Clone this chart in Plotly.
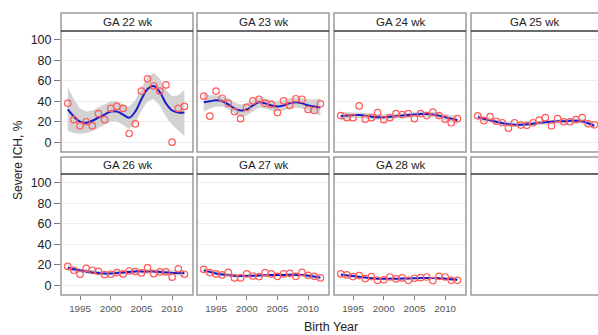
import plotly.graph_objects as go

W, H = 598, 335

years = list(range(1993, 2013))

panel_titles = ["GA 22 wk", "GA 23 wk", "GA 24 wk", "GA 25 wk",
                "GA 26 wk", "GA 27 wk", "GA 28 wk", ""]

# observed rate of severe ICH (%) per birth year
obs_22 = [38, 22, 16, 20, 16, 28, 22, 33, 35, 33, 8.5, 18, 50, 62, 55, 50, 56, 0, 33, 35]
obs_23 = [45, 25.5, 50, 43, 38, 30, 23, 34, 40.5, 42, 38, 37, 29, 40.5, 36, 42.5, 42, 32, 31, 37.5]
obs_24 = [26, 24, 24, 35.5, 22.5, 24, 29, 22, 24, 28, 27, 28, 23, 28, 26, 29.5, 26, 22.5, 19, 23]
obs_25 = [25.8, 21, 25, 20.5, 19, 13.7, 19, 16.7, 16.5, 19, 21.5, 24, 16, 23, 20, 20, 22, 24, 18, 17]
obs_26 = [18.4, 14.6, 10.7, 16.5, 14.6, 13.6, 10.4, 10.7, 12.3, 11, 13.9, 13.3, 12, 17, 11.3, 13, 13, 7.8, 16, 10.7]
obs_27 = [15.5, 12.3, 11, 10, 12.6, 7.1, 7.1, 11, 9, 8.4, 12.3, 11, 8.7, 11, 11.6, 8.7, 12.6, 9.7, 8.7, 7.1]
obs_28 = [11, 10, 8.4, 9.4, 6.5, 8.4, 4.8, 5.2, 8, 6.1, 7.1, 4.8, 6.8, 7.4, 8, 4.5, 8.7, 8, 4.8, 4.8]

# smoothed trend
fit_22 = [32, 25, 20, 19, 21, 24, 27, 30, 30, 27, 24, 30, 42, 52, 55, 49, 38, 31, 29, 29]
fit_23 = [39, 40, 41, 40, 37, 33, 31, 32, 36, 39, 38, 36, 35, 36, 38, 39, 38, 36, 35, 34]
fit_24 = [25.5, 26, 26.5, 26.5, 26, 25, 24.5, 24.5, 25, 25.5, 26, 26.5, 27, 27.5, 27.5, 27, 26, 24.5, 23, 21.5]
fit_25 = [24.5, 23, 21.5, 20, 18.5, 17.5, 17, 17, 17.5, 18, 19, 19.5, 20, 20.5, 20.5, 21, 21, 20.5, 18.5, 16]
fit_26 = [17, 15.5, 14.5, 13.5, 12.5, 12, 11.5, 11.5, 12, 12.5, 13, 13.5, 13.5, 13.5, 13.5, 13, 12.5, 12, 12, 12]
fit_27 = [14.5, 13, 11.5, 10.5, 9.8, 9.3, 9, 9, 9.2, 9.5, 9.7, 9.9, 10, 10, 10.1, 10.1, 10, 9.3, 8.4, 7.4]
fit_28 = [10.3, 9.6, 8.9, 8.2, 7.5, 6.9, 6.4, 6.2, 6.2, 6.3, 6.5, 6.6, 6.8, 7, 7.1, 7.1, 6.9, 6.4, 5.8, 5.2]

# confidence band, upper and lower limits
upper_22 = [54, 42, 33, 30, 31, 34, 37, 40, 40, 37, 35, 41, 53, 64, 68, 62, 51, 45, 46, 51]
lower_22 = [11, 9, 8, 9, 11, 14, 17, 20, 20, 17, 13, 19, 31, 40, 42, 36, 25, 17, 12, 6]
upper_23 = [48, 46, 46, 45, 43, 39, 37, 38, 41, 44, 43, 41, 40, 41, 43, 44, 43, 42, 42, 43]
lower_23 = [30, 33, 35, 35, 32, 28, 25, 26, 30, 34, 33, 31, 30, 31, 33, 34, 33, 31, 28, 26]
upper_24 = [29.5, 29, 29, 29, 28.5, 27.5, 27, 27, 27.5, 28, 28.5, 29, 29.5, 30, 30, 29.5, 28.5, 27.5, 26.5, 25.5]
lower_24 = [21.5, 23, 24, 24, 23.5, 22.5, 22, 22, 22.5, 23, 23.5, 24, 24.5, 25, 25, 24.5, 23.5, 21.5, 19.5, 17.5]
upper_25 = [27.5, 25.5, 23.8, 22.2, 20.7, 19.7, 19.2, 19.2, 19.7, 20.2, 21.2, 21.7, 22.2, 22.7, 22.7, 23.2, 23.3, 23, 21.3, 19.2]
lower_25 = [21.5, 20.5, 19.2, 17.8, 16.3, 15.3, 14.8, 14.8, 15.3, 15.8, 16.8, 17.3, 17.8, 18.3, 18.3, 18.8, 18.7, 18, 15.7, 12.8]
upper_26 = [19.8, 17.8, 16.6, 15.6, 14.6, 14.1, 13.6, 13.6, 14.1, 14.6, 15.1, 15.6, 15.6, 15.6, 15.6, 15.1, 14.7, 14.3, 14.6, 15]
lower_26 = [14.2, 13.2, 12.4, 11.4, 10.4, 9.9, 9.4, 9.4, 9.9, 10.4, 10.9, 11.4, 11.4, 11.4, 11.4, 10.9, 10.3, 9.7, 9.4, 9]
upper_27 = [16.8, 14.9, 13.2, 12.1, 11.4, 10.9, 10.6, 10.6, 10.8, 11.1, 11.3, 11.5, 11.6, 11.6, 11.7, 11.7, 11.7, 11.1, 10.4, 9.8]
lower_27 = [12.2, 11.1, 9.8, 8.9, 8.2, 7.7, 7.4, 7.4, 7.6, 7.9, 8.1, 8.3, 8.4, 8.4, 8.5, 8.5, 8.3, 7.5, 6.4, 5]
upper_28 = [12, 11, 10.1, 9.3, 8.6, 8, 7.5, 7.3, 7.3, 7.4, 7.6, 7.7, 7.9, 8.1, 8.2, 8.2, 8.1, 7.7, 7.2, 6.9]
lower_28 = [8.6, 8.2, 7.7, 7.1, 6.4, 5.8, 5.3, 5.1, 5.1, 5.2, 5.4, 5.5, 5.7, 5.9, 6, 6, 5.7, 5.1, 4.4, 3.5]

y_ticks = [0, 20, 40, 60, 80, 100]
x_ticks = [1995, 2000, 2005, 2010]

series = [
    (obs_22, fit_22, lower_22, upper_22),
    (obs_23, fit_23, lower_23, upper_23),
    (obs_24, fit_24, lower_24, upper_24),
    (obs_25, fit_25, lower_25, upper_25),
    (obs_26, fit_26, lower_26, upper_26),
    (obs_27, fit_27, lower_27, upper_27),
    (obs_28, fit_28, lower_28, upper_28),
    None,
]

# panel geometry in pixels (left, right) per column and (top of strip, strip bottom, plot bottom) per row
col_px = [(61, 193), (197, 329), (334, 466), (471, 598)]
row_px = [(13, 31, 152), (157, 174, 295)]
x_lo = 1991.9
px_per_year = 6.14
y_range = [-9.6, 108.8]

BAND = "#d2d2d2"
LINE = "#1c1cc8"
DOT = "#ff5c5c"
FRAME = "#9a9a9a"
FONT = "Liberation Sans, Arial"

def fx(px):
    return px / W

def fy(px):
    return 1 - px / H

fig = go.Figure()
layout = {}
shapes = []
annotations = []

for i in range(8):
    r, c = divmod(i, 4)
    n = i + 1
    xa = "x" if n == 1 else f"x{n}"
    ya = "y" if n == 1 else f"y{n}"
    xl = "xaxis" if n == 1 else f"xaxis{n}"
    yl = "yaxis" if n == 1 else f"yaxis{n}"
    left, right = col_px[c]
    s_top, s_bot, p_bot = row_px[r]
    x_hi = x_lo + (right - left) / px_per_year

    show_x = (r == 1)
    layout[xl] = dict(
        domain=[fx(left), fx(right)], anchor=ya, range=[x_lo, x_hi],
        tickvals=x_ticks, showticklabels=show_x,
        ticks="outside" if show_x else "", ticklen=4, tickcolor="#777", tickwidth=1,
        tickfont=dict(family=FONT, size=9.8, color="#555"),
        showgrid=False, zeroline=False, showline=False, fixedrange=True,
    )
    show_y = (c == 0)
    layout[yl] = dict(
        domain=[fy(p_bot), fy(s_bot)], anchor=xa, range=y_range,
        tickvals=y_ticks, showticklabels=show_y,
        ticks="outside" if show_y else "", ticklen=6, tickcolor="#777", tickwidth=1,
        tickfont=dict(family=FONT, size=12.5, color="#222"),
        showgrid=True, gridcolor="#ededed", gridwidth=1,
        zeroline=False, showline=False, fixedrange=True,
    )

    # panel frame and strip
    frame_right = fx(right + 6) if c == 3 else fx(right)
    shapes.append(dict(type="rect", xref="paper", yref="paper",
                       x0=fx(left), x1=frame_right, y0=fy(p_bot), y1=fy(s_top),
                       line=dict(color=FRAME, width=1.5), fillcolor="rgba(0,0,0,0)", layer="above"))
    shapes.append(dict(type="line", xref="paper", yref="paper",
                       x0=fx(left), x1=frame_right, y0=fy(s_bot), y1=fy(s_bot),
                       line=dict(color="#3a3a3a", width=1.6), layer="above"))
    if panel_titles[i]:
        annotations.append(dict(xref="paper", yref="paper",
                                x=fx((left + right) / 2), y=fy((s_top + s_bot) / 2),
                                text=panel_titles[i], showarrow=False,
                                xanchor="center", yanchor="middle",
                                font=dict(family=FONT, size=11.5, color="#222")))

    if series[i] is None:
        continue
    obs, fit, lower, upper = series[i]
    fig.add_trace(go.Scatter(
        x=years + years[::-1], y=upper + lower[::-1], fill="toself",
        fillcolor=BAND, line=dict(width=0), mode="lines",
        hoverinfo="skip", showlegend=False, xaxis=xa, yaxis=ya))
    fig.add_trace(go.Scatter(
        x=years, y=fit, mode="lines", line=dict(color=LINE, width=2, shape="spline"),
        showlegend=False, xaxis=xa, yaxis=ya))
    fig.add_trace(go.Scatter(
        x=years, y=obs, mode="markers",
        marker=dict(symbol="circle-open", size=6.5, color=DOT, line=dict(width=1.2, color=DOT)),
        showlegend=False, xaxis=xa, yaxis=ya, cliponaxis=False))

annotations.append(dict(xref="paper", yref="paper", x=fx(18), y=fy(160),
                        text="Severe ICH, %", textangle=-90, showarrow=False,
                        xanchor="center", yanchor="middle",
                        font=dict(family=FONT, size=12, color="#222")))
annotations.append(dict(xref="paper", yref="paper", x=fx(331), y=fy(327),
                        text="Birth Year", showarrow=False,
                        xanchor="center", yanchor="middle",
                        font=dict(family=FONT, size=12.5, color="#222")))

fig.update_layout(
    width=W, height=H,
    margin=dict(l=0, r=0, t=0, b=0),
    paper_bgcolor="white", plot_bgcolor="white",
    shapes=shapes, annotations=annotations,
    **layout,
)

fig.write_html("out.html", config={"displayModeBar": False})
